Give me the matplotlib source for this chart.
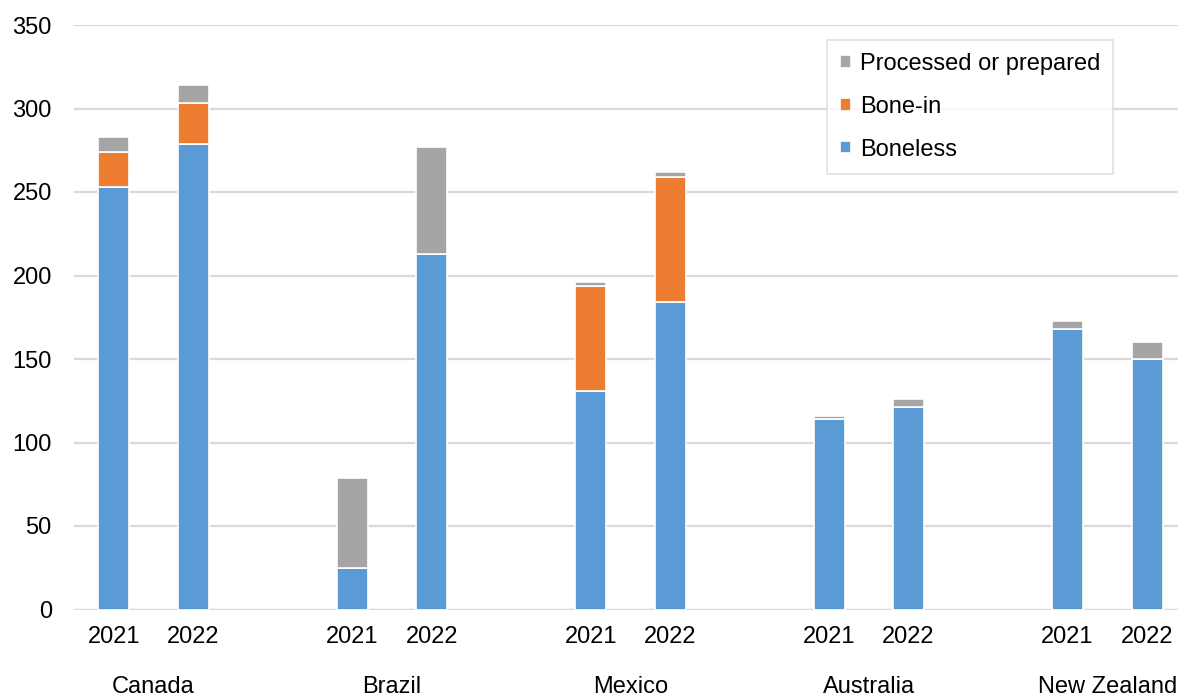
import matplotlib.pyplot as plt
from matplotlib.transforms import blended_transform_factory

plt.rcParams['font.family'] = ['Liberation Sans', 'DejaVu Sans']

countries = ['Canada', 'Brazil', 'Mexico', 'Australia', 'New Zealand']
years = ['2021', '2022']
# values per bar, order: Canada 21/22, Brazil 21/22, Mexico 21/22, Australia 21/22, NZ 21/22
boneless = [253, 279, 25, 213, 131, 184, 114, 121, 168, 150]
bone_in = [21, 24, 0, 0, 63, 75, 0, 0, 0, 0]
processed = [9, 11, 54, 64, 2, 3, 2, 5, 5, 10]

blue = '#5B9BD5'
orange = '#ED7D31'
gray = '#A5A5A5'
grid_c = '#D9D9D9'
fs = 17

pos = []
for g in range(len(countries)):
    pos += [g * 3, g * 3 + 1]
bottom2 = [a + b for a, b in zip(boneless, bone_in)]

fig = plt.figure(figsize=(11.78, 6.96), dpi=100)
ax = fig.add_axes([74 / 1178, 1 - 609.5 / 696, 1 - 74 / 1178, (609.5 - 25) / 696])

w = 0.39
b1 = ax.bar(pos, boneless, w, color=blue, edgecolor='white', linewidth=1.2, label='Boneless', zorder=3)
b2 = ax.bar(pos, bone_in, w, bottom=boneless, color=orange, edgecolor='white', linewidth=1.2,
            label='Bone-in', zorder=3)
b3 = ax.bar(pos, processed, w, bottom=bottom2, color=gray, edgecolor='white', linewidth=1.2,
            label='Processed or prepared', zorder=3)

ax.set_ylim(0, 350)
ax.set_xlim(-0.5, 13.39)
ax.set_yticks(range(0, 351, 50))
ax.yaxis.grid(True, color=grid_c, linewidth=1.6, zorder=0)
for s in ax.spines.values():
    s.set_visible(False)
ax.axhline(0, color=grid_c, linewidth=1.6, zorder=1)

ax.set_xticks(pos, years * len(countries))
ax.tick_params(axis='x', length=0, pad=12, labelsize=fs)
ax.tick_params(axis='y', length=0, pad=16, labelsize=fs)

tr = blended_transform_factory(ax.transData, ax.transAxes)
for g, c in enumerate(countries):
    ax.annotate(c, xy=(g * 3 + 0.5, 0), xycoords=tr, xytext=(0, -55.5),
                textcoords='offset points', ha='center', va='center', fontsize=fs,
                annotation_clip=False)

leg = ax.legend(handles=[b3, b2, b1], loc='upper left', bbox_to_anchor=(827 / 1178, 1 - 40 / 696),
                bbox_transform=fig.transFigure, fontsize=fs, frameon=True, fancybox=False,
                edgecolor=grid_c, handlelength=0.45, handleheight=0.45, handletextpad=0.4,
                labelspacing=0.88, borderpad=0.55, borderaxespad=0)
leg.get_frame().set_linewidth(1.2)

fig.savefig('out.png', dpi=100)
